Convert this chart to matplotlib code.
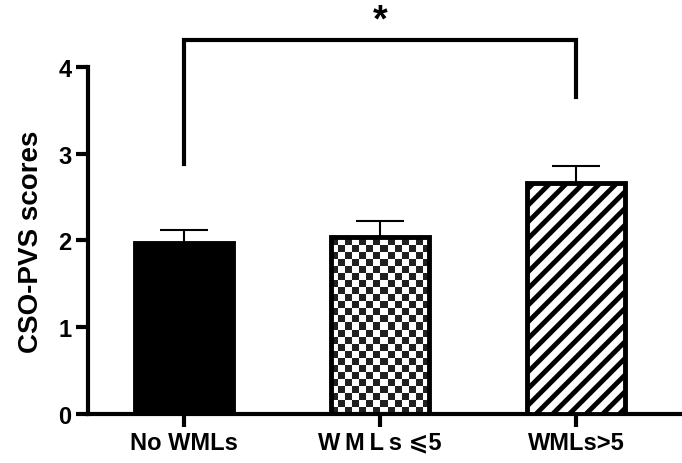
import matplotlib
matplotlib.use("Agg")
import matplotlib.pyplot as plt
import numpy as np

groups = ["No WMLs", "W\u2009M\u2009L\u2009s \u2a7d5", "WMLs>5"]
means = [1.97, 2.04, 2.66]
errors = [0.15, 0.18, 0.20]
bracket_top = 4.31
bracket_left_end = 2.88
bracket_right_end = 3.65

plt.rcParams["font.family"] = ["Liberation Sans", "DejaVu Sans"]
plt.rcParams["font.weight"] = "bold"
plt.rcParams["hatch.linewidth"] = 3.5

fig = plt.figure(figsize=(6.82, 4.64), dpi=100)
ax = fig.add_axes([0.129, 0.1056, 0.871, 0.748])
ax.set_xlim(-0.49, 2.54)
ax.set_ylim(0, 4)

x = np.arange(len(groups))
width = 0.5
bars = ax.bar(x, means, width, color="white", edgecolor="black", linewidth=3.5, zorder=3)
bars[0].set_facecolor("black")
bars[1].set_facecolor("none")
bars[2].set_hatch("//")

# checkerboard fill for the middle bar, clipped to the bar outline
n_cols = 14
sq_w = width / n_cols
# make the squares square on screen
bbox = ax.get_position()
fw, fh = fig.get_size_inches()
px_x = bbox.width * fw / (2.54 + 0.49)
px_y = bbox.height * fh / 4.0
sq_h = sq_w * px_x / px_y
n_rows = int(np.ceil(means[1] / sq_h)) + 1
checker = (np.indices((n_rows, n_cols)).sum(axis=0) % 2).astype(float)
img = ax.imshow(checker, cmap="gray", vmin=-0.15, vmax=1, interpolation="nearest",
                extent=(x[1] - width / 2, x[1] + width / 2, 0, n_rows * sq_h),
                origin="lower", aspect="auto", zorder=2.5)
img.set_clip_path(bars[1])

ax.errorbar(x, means, yerr=[np.zeros(3), errors], fmt="none", ecolor="black",
            elinewidth=1.5, capsize=17, capthick=1.5, zorder=2)

# significance bracket
ax.plot([x[0], x[0], x[2], x[2]],
        [bracket_left_end, bracket_top, bracket_top, bracket_right_end],
        color="black", linewidth=3, clip_on=False, solid_joinstyle="miter")
ax.text((x[0] + x[2]) / 2, bracket_top + 0.02, "*", ha="center", va="bottom",
        fontsize=27, fontweight="bold", clip_on=False)

ax.set_yticks([0, 1, 2, 3, 4])
ax.set_xticks(x)
ax.set_xticklabels(groups)
ax.set_ylabel("CSO-PVS scores", fontsize=20, fontweight="bold", labelpad=10)

for side in ["top", "right"]:
    ax.spines[side].set_visible(False)
for side in ["left", "bottom"]:
    ax.spines[side].set_linewidth(3)
ax.tick_params(axis="both", width=3, length=9, labelsize=17, pad=3)
for lab in ax.get_xticklabels() + ax.get_yticklabels():
    lab.set_fontweight("bold")

plt.savefig("out.png", dpi=100)
